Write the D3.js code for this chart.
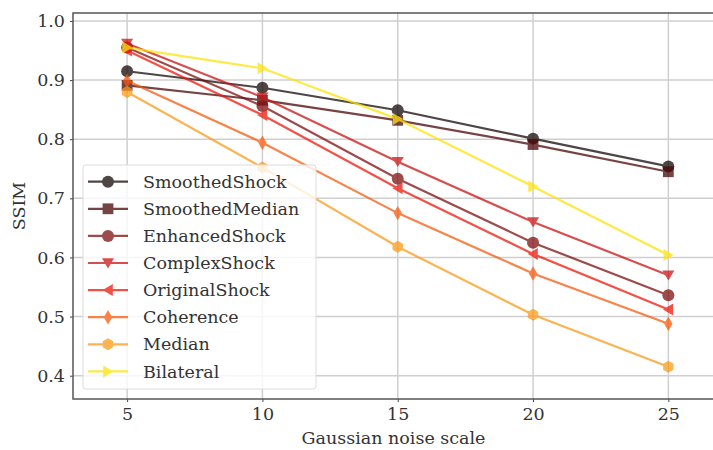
<!DOCTYPE html>
<html>
<head>
<meta charset="utf-8">
<script src="https://cdn.jsdelivr.net/npm/d3@7"></script>
<style>
  body { margin: 0; background: #fff; }
  svg text { font-family: "DejaVu Serif", serif; fill: #333; }
</style>
</head>
<body>
<div id="chart"></div>
<script>
const noiseScales = [5, 10, 15, 20, 25]
const methods = ["SmoothedShock", "SmoothedMedian", "EnhancedShock", "ComplexShock",
  "OriginalShock", "Coherence", "Median", "Bilateral"]
const smoothedShock = [0.915, 0.887, 0.849, 0.801, 0.754]
const smoothedMedian = [0.891, 0.866, 0.832, 0.791, 0.745]
const enhancedShock = [0.955, 0.856, 0.733, 0.625, 0.536]
const complexShock = [0.962, 0.871, 0.762, 0.660, 0.570]
const originalShock = [0.950, 0.841, 0.717, 0.606, 0.512]
const coherence = [0.899, 0.794, 0.675, 0.573, 0.488]
const median = [0.880, 0.752, 0.618, 0.503, 0.415]
const bilateral = [0.955, 0.920, 0.834, 0.720, 0.604]
const yTicks = [0.4, 0.5, 0.6, 0.7, 0.8, 0.9, 1.0]

const seriesValues = [smoothedShock, smoothedMedian, enhancedShock, complexShock,
  originalShock, coherence, median, bilateral]
const colors = ["#140808", "#4a0606", "#7e0f0f", "#cc1414", "#f0180c", "#f75a0c", "#fb9a16", "#fde40c"]
const markers = ["circle", "square", "circle", "down", "left", "diamond", "hexagon", "right"]

const width = 713, height = 450
const plot = { left: 73, top: 13, right: 713, bottom: 399 }
const fontSize = "17.5px"

const svg = d3.select("#chart").append("svg")
  .attr("width", width).attr("height", height)

const x = d3.scaleLinear().domain([3.0, 26.65]).range([plot.left, plot.right])
const y = d3.scaleLinear().domain([0.3606, 1.0135]).range([plot.bottom, plot.top])

// grid
svg.append("g").selectAll("line").data(noiseScales).enter().append("line")
  .attr("x1", d => x(d)).attr("x2", d => x(d))
  .attr("y1", plot.top).attr("y2", plot.bottom)
  .attr("stroke", "#cfcfcf").attr("stroke-width", 1.5)
svg.append("g").selectAll("line").data(yTicks).enter().append("line")
  .attr("x1", plot.left).attr("x2", plot.right)
  .attr("y1", d => y(d)).attr("y2", d => y(d))
  .attr("stroke", "#cfcfcf").attr("stroke-width", 1.5)

// axes
const xAxis = svg.append("g")
  .attr("transform", `translate(0,${plot.bottom})`)
  .call(d3.axisBottom(x).tickValues(noiseScales).tickSize(3).tickPadding(6))
const yAxis = svg.append("g")
  .attr("transform", `translate(${plot.left},0)`)
  .call(d3.axisLeft(y).tickValues(yTicks).tickFormat(d3.format(".1f")).tickSize(3).tickPadding(5))
;[xAxis, yAxis].forEach(a => {
  a.select(".domain").remove()
  a.selectAll("line").attr("stroke", "#444")
  a.selectAll("text").style("font-size", fontSize).attr("fill", "#333")
})

// spines
svg.append("rect")
  .attr("x", plot.left).attr("y", plot.top)
  .attr("width", plot.right - plot.left + 2).attr("height", plot.bottom - plot.top)
  .attr("fill", "none").attr("stroke", "#555").attr("stroke-width", 1.5)

function markerPath(type, s) {
  const r = s / 2
  if (type === "circle") return d3.symbol(d3.symbolCircle, Math.PI * r * r)()
  if (type === "square") return d3.symbol(d3.symbolSquare, (s * 0.9) * (s * 0.9))()
  if (type === "diamond") return `M0,${-r * 1.2}L${r * 0.7},0L0,${r * 1.2}L${-r * 0.7},0Z`
  if (type === "hexagon") {
    return d3.range(6).map((i, k) => {
      const a = Math.PI / 3 * i
      return (k ? "L" : "M") + (r * Math.sin(a)) + "," + (-r * Math.cos(a))
    }).join("") + "Z"
  }
  if (type === "down") return `M${-r},${-r * 0.8}L${r},${-r * 0.8}L0,${r * 0.9}Z`
  if (type === "left") return `M${-r * 0.9},0L${r * 0.8},${-r}L${r * 0.8},${r}Z`
  if (type === "right") return `M${r * 0.9},0L${-r * 0.8},${-r}L${-r * 0.8},${r}Z`
}

const line = d3.line().x((d, i) => x(noiseScales[i])).y(d => y(d))

const series = svg.append("g").selectAll("g").data(seriesValues).enter().append("g")
  .attr("opacity", 0.75)
series.append("path")
  .attr("d", d => line(d))
  .attr("fill", "none")
  .attr("stroke", (d, i) => colors[i])
  .attr("stroke-width", 2.2)
series.each(function(vals, si) {
  d3.select(this).selectAll("path.m").data(vals).enter().append("path")
    .attr("class", "m")
    .attr("transform", (d, i) => `translate(${x(noiseScales[i])},${y(d)})`)
    .attr("d", markerPath(markers[si], 12))
    .attr("fill", colors[si])
})

// legend
const lg = svg.append("g").attr("transform", "translate(83,165)")
lg.append("rect")
  .attr("width", 233).attr("height", 224).attr("rx", 3)
  .attr("fill", "rgba(255,255,255,0.8)").attr("stroke", "#dcdcdc")
const items = lg.selectAll("g").data(methods).enter().append("g")
  .attr("transform", (d, i) => `translate(0,${16.7 + i * 27.1})`)
  .attr("opacity", 0.75)
items.append("line")
  .attr("x1", 5).attr("x2", 45)
  .attr("stroke", (d, i) => colors[i]).attr("stroke-width", 2.2)
items.append("path")
  .attr("transform", "translate(25,0)")
  .attr("d", (d, i) => markerPath(markers[i], 12))
  .attr("fill", (d, i) => colors[i])
lg.selectAll("text").data(methods).enter().append("text")
  .attr("x", 60).attr("y", (d, i) => 16.7 + i * 27.1)
  .attr("dy", "0.35em")
  .style("font-size", fontSize)
  .text(d => d)

// axis titles
svg.append("text")
  .attr("x", (plot.left + plot.right) / 2 + 73 / 2 - 36).attr("y", 444)
  .attr("text-anchor", "middle").style("font-size", fontSize)
  .text("Gaussian noise scale")
svg.append("text")
  .attr("transform", "translate(25,206) rotate(-90)")
  .attr("text-anchor", "middle").style("font-size", fontSize)
  .text("SSIM")
</script>
</body>
</html>
